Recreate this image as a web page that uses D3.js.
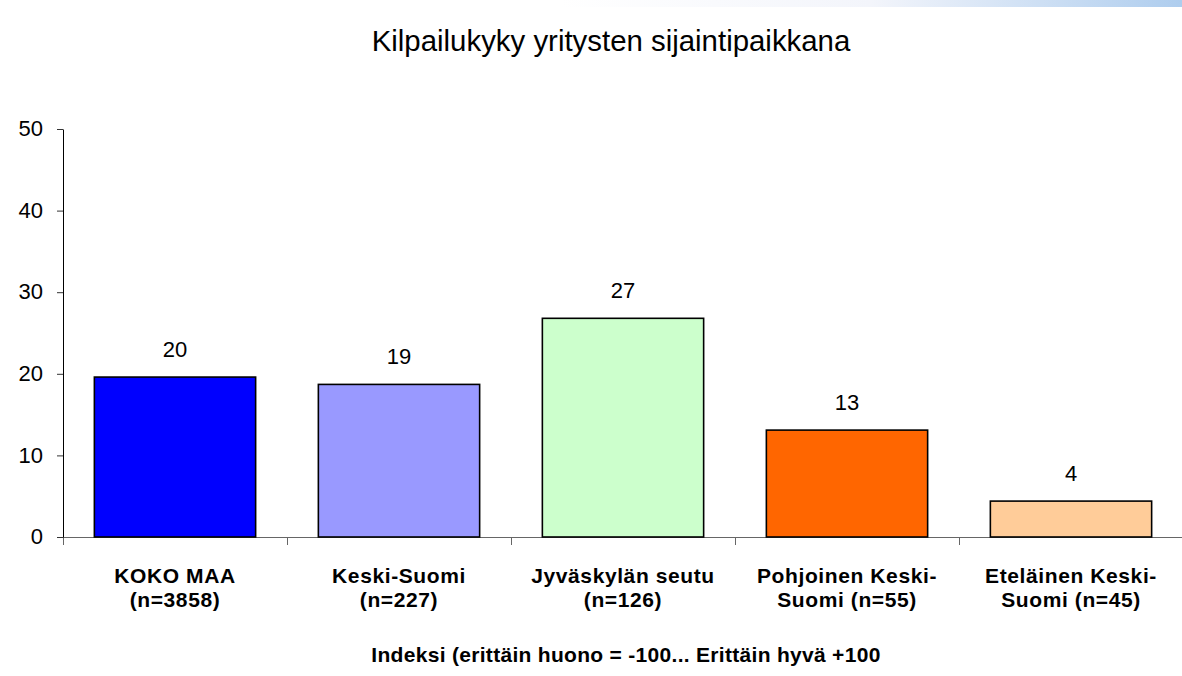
<!DOCTYPE html>
<html>
<head>
<meta charset="utf-8">
<title>Kilpailukyky yritysten sijaintipaikkana</title>
<style>
  body { margin: 0; background: #fff; }
  svg { display: block; font-family: "Liberation Sans", Arial, sans-serif; }
  .yaxis path { stroke: #000; }
  .yaxis line { stroke: #333; }
  .yaxis text { font-size: 22px; fill: #000; font-family: "Liberation Sans", Arial, sans-serif; }
  .xaxis path, .xaxis line { stroke: #666; }
  .xaxis text { display: none; }
</style>
</head>
<body>
<script src="https://cdnjs.cloudflare.com/ajax/libs/d3/7.8.5/d3.min.js"></script>
<script>
// data
var categories = ["KOKO MAA|(n=3858)", "Keski-Suomi|(n=227)", "Jyväskylän seutu|(n=126)",
                  "Pohjoinen Keski-|Suomi (n=55)", "Eteläinen Keski-|Suomi (n=45)"];
var values = [19.6, 18.7, 26.8, 13.1, 4.4];
var colors = ["#0000ff", "#9999ff", "#ccffcc", "#ff6600", "#ffcc99"];
var yTicks = [0, 10, 20, 30, 40, 50];

var W = 1182, H = 676;
var margin = {top: 129, left: 63, bottom: 139};
var plotW = 5 * 224, plotH = H - margin.top - margin.bottom;

var svg = d3.select("body").append("svg")
    .attr("width", W)
    .attr("height", H);

// faint gradient strip at top right
var grad = svg.append("defs").append("linearGradient")
    .attr("id", "topgrad");
grad.append("stop").attr("offset", "0%").attr("stop-color", "#ffffff");
grad.append("stop").attr("offset", "50%").attr("stop-color", "#f3f5fb");
grad.append("stop").attr("offset", "100%").attr("stop-color", "#aecdee");
svg.append("rect")
    .attr("x", 560).attr("y", 0)
    .attr("width", W - 560).attr("height", 7)
    .attr("fill", "url(#topgrad)");

var chart = svg.append("g")
    .attr("transform", "translate(" + margin.left + "," + margin.top + ")");

var x = d3.scaleBand()
    .domain(categories)
    .range([0, plotW])
    .paddingInner(0.28)
    .paddingOuter(0.14);

var y = d3.scaleLinear()
    .domain([0, 50])
    .range([plotH, 0]);

// x axis (tick marks between categories)
var xLine = d3.scaleLinear().domain([0, 5]).range([0, plotW]);
chart.append("g")
    .attr("class", "xaxis")
    .attr("transform", "translate(0," + plotH + ")")
    .call(d3.axisBottom(xLine).tickValues([0, 1, 2, 3, 4, 5]).tickSizeInner(8).tickSizeOuter(0));

// y axis
chart.append("g")
    .attr("class", "yaxis")
    .call(d3.axisLeft(y).tickValues(yTicks).tickSizeInner(6).tickSizeOuter(0))
    .selectAll("text")
    .attr("x", -20)
    .attr("dy", "0.3em")
    .style("text-anchor", "end");

// bars
chart.selectAll(".bar")
    .data(values)
    .enter()
    .append("rect")
    .attr("class", "bar")
    .attr("x", function(d, i){ return x(categories[i]); })
    .attr("y", function(d){ return y(d); })
    .attr("width", x.bandwidth())
    .attr("height", function(d){ return plotH - y(d); })
    .attr("fill", function(d, i){ return colors[i]; })
    .attr("stroke", "#000")
    .attr("stroke-width", 1.6);

// value labels
chart.selectAll(".lbl")
    .data(values)
    .enter()
    .append("text")
    .attr("class", "lbl")
    .attr("x", function(d, i){ return x(categories[i]) + x.bandwidth() / 2; })
    .attr("y", function(d){ return y(d) - 20; })
    .attr("text-anchor", "middle")
    .style("font-size", "22px")
    .text(function(d){ return Math.round(d); });

// category labels
var cl = chart.selectAll(".cat")
    .data(categories)
    .enter()
    .append("text")
    .attr("class", "cat")
    .attr("text-anchor", "middle")
    .style("font-size", "21px")
    .style("font-weight", "bold")
    .style("letter-spacing", "0.6px")
    .attr("transform", function(d){ return "translate(" + (x(d) + x.bandwidth() / 2) + "," + (plotH + 46) + ")"; });
cl.selectAll("tspan")
    .data(function(d){ return d.split("|"); })
    .enter()
    .append("tspan")
    .attr("x", 0)
    .attr("dy", function(d, i){ return i === 0 ? 0 : 24; })
    .text(function(d){ return d; });

// title
svg.append("text")
    .attr("x", 611)
    .attr("y", 51)
    .attr("text-anchor", "middle")
    .style("font-size", "29.4px")
    .text("Kilpailukyky yritysten sijaintipaikkana");

// axis title
svg.append("text")
    .attr("x", 626)
    .attr("y", 662)
    .attr("text-anchor", "middle")
    .style("font-size", "21px")
    .style("font-weight", "bold")
    .style("letter-spacing", "0.3px")
    .text("Indeksi (erittäin huono = -100... Erittäin hyvä +100");
</script>
</body>
</html>
